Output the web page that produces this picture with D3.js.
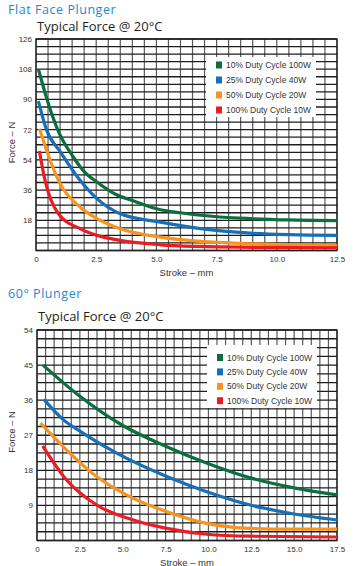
<!DOCTYPE html>
<html><head><meta charset="utf-8">
<script src="https://cdn.jsdelivr.net/npm/d3@7"></script>
<style>
html,body{margin:0;padding:0;background:#fff;}
svg{display:block;}
</style></head>
<body>
<svg id="chart" width="355" height="566"></svg>
<script>
// ---------- Data ----------
const seriesNames = ["10% Duty Cycle 100W", "25% Duty Cycle 40W", "50% Duty Cycle 20W", "100% Duty Cycle 10W"];
const seriesColors = ["#0b6e3f", "#1570b9", "#f7941d", "#ec1c24"];

// Flat Face Plunger: [stroke mm, force N]
const flatGreen = [[0.1,108],[0.5,88],[0.93,71],[1.55,55.7],[2.0,47],[2.53,40.8],[3.3,33.5],[4.06,29.5],[5.17,24.3],[6.0,22.5],[6.83,21],[8.9,19],[10.5,18.2],[12.5,17.8]];
const flatBlue = [[0.1,89],[0.44,71.7],[1.0,59],[1.83,41.8],[2.53,30.9],[3.5,21.9],[5.17,16.9],[6.83,13],[8.9,10.3],[10.5,9.4],[12.5,9]];
const flatOrange = [[0.15,72.5],[0.44,59.7],[0.93,41.8],[1.83,25.9],[2.53,19],[3.5,13],[5.17,8],[6.83,5.4],[8.9,4],[10.5,3.4],[12.5,3]];
const flatRed = [[0.14,59.3],[0.375,41.8],[0.93,21.9],[1.83,13],[2.53,9],[3.5,6],[5.17,3.4],[6.83,2.4],[9.0,1.9],[12.5,1.6]];

// 60° Plunger: [stroke mm, force N]
const angGreen = [[0.35,45],[2.5,37],[5.0,29.5],[7.5,24.2],[10.0,19.7],[12.5,16],[15.0,13.5],[17.5,11.7]];
const angBlue = [[0.4,36.2],[1.53,31],[2.7,27.5],[4.65,22.4],[7.57,16.4],[9.9,12.5],[12.43,9.1],[14.76,7],[17.5,5.25]];
const angOrange = [[0.21,30.1],[1.73,23.2],[3.48,16.4],[5.62,10.8],[7.57,7.4],[9.9,4.4],[12.43,3.1],[14.76,2.9],[17.5,2.9]];
const angRed = [[0.33,24.3],[1.73,15.5],[3.48,9.1],[5.62,5.25],[7.57,3.1],[9.9,1.6],[12.43,1.1],[17.5,0.9]];

const flatXTicks = [0, 2.5, 5.0, 7.5, 10.0, 12.5];
const flatYTicks = [18, 36, 54, 72, 90, 108, 126];
const angXTicks = [0, 2.5, 5.0, 7.5, 10.0, 12.5, 15.0, 17.5];
const angYTicks = [9, 18, 27, 36, 45, 54];

const svg = d3.select("#chart");
const FONT = "'Liberation Sans', Arial, sans-serif";

function drawChart(cfg) {
  const g = svg.append("g");
  const x = d3.scaleLinear().domain([0, cfg.xMax]).range([cfg.left, cfg.right]);
  const y = d3.scaleLinear().domain([0, cfg.yMax]).range([cfg.bottom, cfg.top]);

  // Titles
  g.append("text").attr("x", 8).attr("y", cfg.titleY)
    .attr("font-family", "'Open Sans', sans-serif").attr("font-size", 12.5)
    .attr("letter-spacing", 0.55)
    .attr("fill", "#1b8ad1").text(cfg.title);
  g.append("text").attr("x", cfg.left + 1).attr("y", cfg.subY)
    .attr("font-family", "'Open Sans', sans-serif").attr("font-size", 13)
    .attr("fill", "#231f20").text("Typical Force @ 20°C");

  // Vertical grid
  const vLines = d3.range(0, cfg.xMax + 1e-6, cfg.xStep);
  g.append("g").selectAll("line").data(vLines).join("line")
    .attr("x1", d => x(d)).attr("x2", d => x(d))
    .attr("y1", cfg.top).attr("y2", cfg.bottom)
    .attr("stroke", "#5a5a5a").attr("stroke-width", 1.2);
  // Horizontal grid
  const hLines = d3.range(0, cfg.yMax + 1e-6, cfg.yStep);
  g.append("g").selectAll("line").data(hLines).join("line")
    .attr("x1", cfg.left).attr("x2", cfg.right)
    .attr("y1", d => y(d)).attr("y2", d => y(d))
    .attr("stroke", "#1e1e1e").attr("stroke-width", 1.3);
  // Frame
  g.append("rect").attr("x", cfg.left).attr("y", cfg.top)
    .attr("width", cfg.right - cfg.left).attr("height", cfg.bottom - cfg.top)
    .attr("fill", "none").attr("stroke", "#1e1e1e").attr("stroke-width", 1.3);

  // Legend box
  const lg = g.append("g");
  lg.append("rect").attr("x", cfg.legX).attr("y", cfg.legY)
    .attr("width", cfg.legW).attr("height", cfg.legH).attr("fill", "#fff");
  seriesNames.forEach((name, i) => {
    const cy = cfg.legY + cfg.legRow0 + i * cfg.legRowH;
    lg.append("rect").attr("x", cfg.legX + 10).attr("y", cy - 3.5)
      .attr("width", 6).attr("height", 7).attr("fill", seriesColors[i]);
    lg.append("text").attr("x", cfg.legX + 20).attr("y", cy + 3)
      .attr("font-family", FONT).attr("font-size", 8.5).attr("fill", "#333")
      .text(name);
  });

  // Curves
  const line = d3.line().x(d => x(d[0])).y(d => y(d[1])).curve(d3.curveMonotoneX);
  cfg.series.forEach((s, i) => {
    g.append("path").datum(s).attr("d", line)
      .attr("fill", "none").attr("stroke", seriesColors[i])
      .attr("stroke-width", 3.2).attr("stroke-linecap", "butt");
  });

  // Axes labels (ticks)
  const xAxis = d3.axisBottom(x).tickValues(cfg.xTicks).tickSize(0)
    .tickFormat(d => d === 0 ? "0" : d3.format(".1f")(d));
  const xa = g.append("g").attr("transform", `translate(0,${cfg.bottom})`).call(xAxis);
  xa.select(".domain").remove();
  xa.selectAll("text").attr("dy", null).attr("y", 11.5)
    .attr("font-family", FONT).attr("font-size", 8).attr("fill", "#333");

  const yAxis = d3.axisLeft(y).tickValues(cfg.yTicks).tickSize(0).tickFormat(d3.format("d"));
  const ya = g.append("g").attr("transform", `translate(${cfg.left},0)`).call(yAxis);
  ya.select(".domain").remove();
  ya.selectAll("text").attr("x", -4).attr("dy", "0.32em")
    .attr("font-family", FONT).attr("font-size", 8).attr("fill", "#333");

  // Axis titles
  g.append("text").attr("x", (cfg.left + cfg.right) / 2).attr("y", cfg.bottom + 25)
    .attr("text-anchor", "middle").attr("font-family", FONT).attr("font-size", 9.5)
    .attr("fill", "#333").text("Stroke – mm");
  g.append("text")
    .attr("transform", `translate(15,${cfg.yTitleC}) rotate(-90)`)
    .attr("text-anchor", "middle").attr("font-family", FONT).attr("font-size", 9.5)
    .attr("fill", "#333").text("Force – N");
}

drawChart({
  title: "Flat Face Plunger", titleY: 13.5, subY: 31,
  left: 36, right: 337, top: 39, bottom: 250.5,
  xMax: 12.5, xStep: 0.5, yMax: 126, yStep: 4.5,
  xTicks: flatXTicks, yTicks: flatYTicks,
  legX: 206, legY: 57, legW: 110, legH: 60, legRow0: 8, legRowH: 15,
  yTitleC: 142.5,
  series: [flatGreen, flatBlue, flatOrange, flatRed]
});

drawChart({
  title: "60° Plunger", titleY: 298, subY: 321,
  left: 37, right: 337, top: 330, bottom: 540.5,
  xMax: 17.5, xStep: 0.5, yMax: 54, yStep: 2.25,
  xTicks: angXTicks, yTicks: angYTicks,
  legX: 207, legY: 345, legW: 110, legH: 63, legRow0: 12.5, legRowH: 14.4,
  yTitleC: 432,
  series: [angGreen, angBlue, angOrange, angRed]
});
</script>
</body></html>
